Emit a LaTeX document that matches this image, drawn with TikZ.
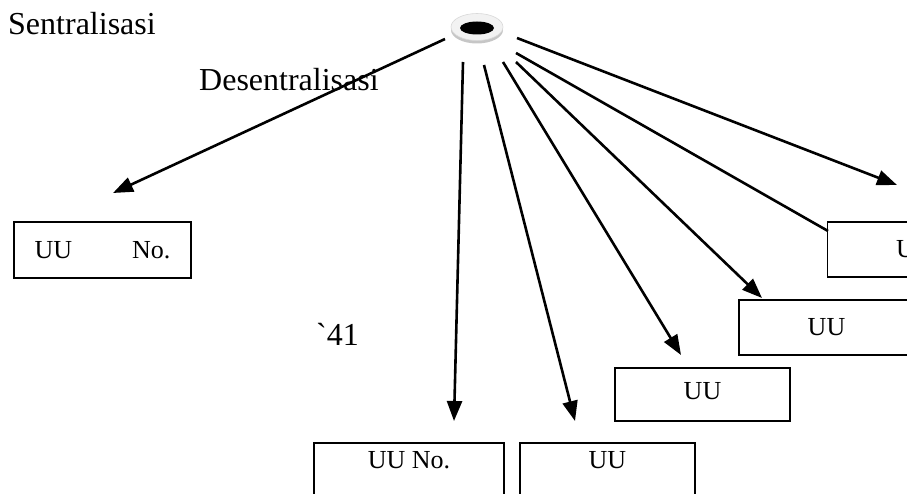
\documentclass[tikz,border=0pt]{standalone}
\usepackage{fontspec}
\setmainfont{Liberation Serif}
\usetikzlibrary{positioning, arrows.meta}
\usetikzlibrary{shapes.geometric}

\begin{document}
\begin{tikzpicture}[
    x=1pt, y=-1pt,
    box/.style={draw, rectangle, line width=1.8pt, fill=white, minimum width=175pt, minimum height=55pt, inner sep=0pt, font=\fontsize{26}{30}\selectfont},
    lowbox/.style={box, text height=26pt, text depth=30pt},
    lbl/.style={anchor=base west, inner sep=0pt, font=\fontsize{32}{38}\selectfont},
    hubring/.style={ellipse, minimum width=52pt, minimum height=27pt, inner sep=0pt, fill=gray!10, draw=gray!30, line width=0.6pt,
        preaction={fill=gray!45, transform canvas={yshift=-3pt}},
        path picture={\fill[black] ([yshift=-1pt]path picture bounding box.center) ellipse (17pt and 6.5pt);}},
    arrow/.style={-{Triangle[length=20pt,width=15pt]}, line width=2.6pt},
    tail/.style={line width=2.6pt}
]
\useasboundingbox (0,0) rectangle (907,494);
\clip (0,0) rectangle (907,494);

% Labels
\node[lbl] (sentral) at (8,35) {Sentralisasi};
\node[lbl] (desentral) at (199,91) {Desentralisasi};
\node[lbl] (tahun) at (316,345) {\textasciigrave 41};

% Hub
\node[hubring] (hub) at (477,27) {};

% Boxes
\node[box, minimum width=177pt, minimum height=56pt] (uukiri) at (102.5,250) {UU\hspace{60pt}No.};
\node[lowbox, minimum width=190pt, anchor=north] (uuno) at (409,442) {UU No.};
\node[lowbox, right=14pt of uuno] (uubawah) {UU};
\node[box, minimum height=53pt, text depth=8pt] (uutiga) at (702.5,394.5) {UU};
\node[box, text depth=2pt] (uudua) at (826.5,327.5) {UU};
\node[box, text depth=2pt] (uusatu) at (915,249.5) {UU};

% Arrow ends
\coordinate (s1) at (445,39);  \coordinate (t1) at (113,193);
\coordinate (s2) at (463,62);  \coordinate (t2) at (454,421);
\coordinate (s3) at (484,65);  \coordinate (t3) at (575,421);
\coordinate (s4) at (503,62);  \coordinate (t4) at (681,355);
\coordinate (s5) at (516,62);  \coordinate (t5) at (762,298);
\coordinate (s6) at (516,53);  \coordinate (t6) at (828,231);
\coordinate (s7) at (517,38);  \coordinate (t7) at (897,185);

% Arrows
\draw[arrow] (s1) -- (t1);
\draw[arrow] (s2) -- (t2);
\draw[arrow] (s3) -- (t3);
\draw[arrow] (s4) -- (t4);
\draw[arrow] (s5) -- (t5);
\draw[tail] (s6) -- (t6);
\draw[arrow] (s7) -- (t7);

\end{tikzpicture}
\end{document}
